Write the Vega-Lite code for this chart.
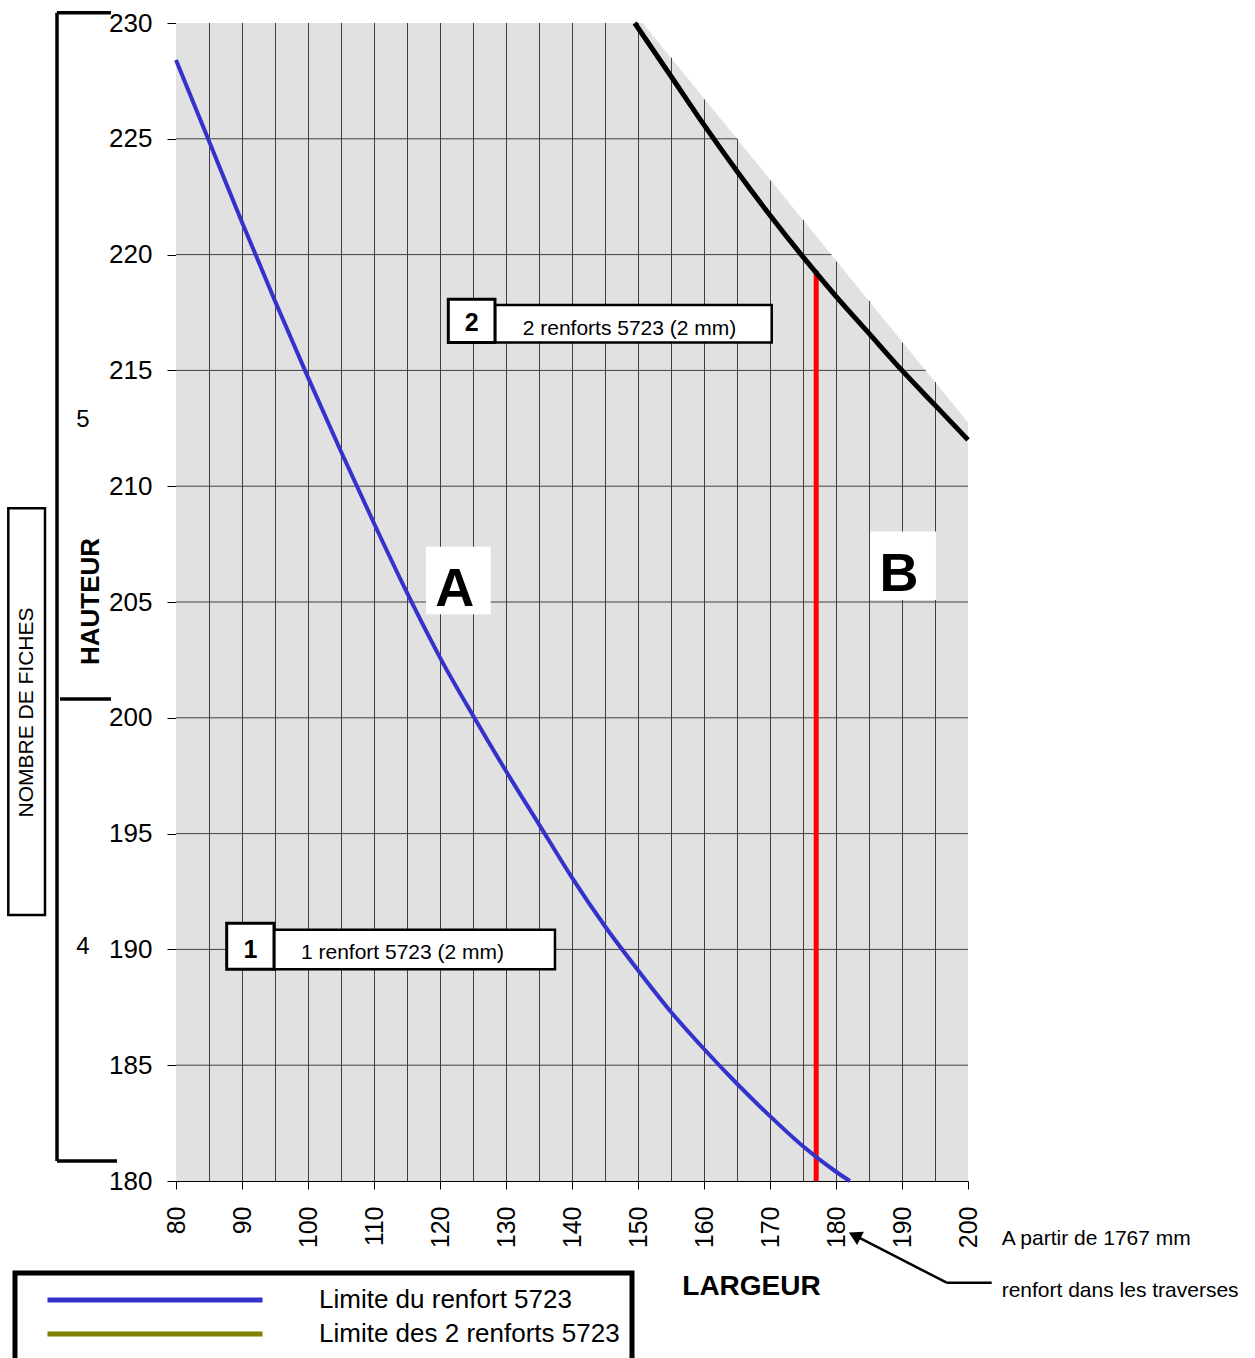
{
  "$schema": "https://vega.github.io/schema/vega-lite/v6.json",
  "width": 792,
  "height": 1158,
  "autosize": {"type": "none"},
  "padding": {"left": 176, "top": 23, "right": 287, "bottom": 177},
  "background": "white",
  "config": {
    "font": "Liberation Sans",
    "view": {"stroke": null},
    "axis": {"grid": false},
    "legend": {"strokeWidth": 5}
  },
  "datasets": {
    "zone": [{"x": 80, "y": 230, "base": 180}, {"x": 150.7, "y": 230, "base": 180}, {"x": 200, "y": 212.75, "base": 180}],
    "vgrid": [
      {"x": 85, "base": 180, "top": 230}, {"x": 90, "base": 180, "top": 230}, {"x": 95, "base": 180, "top": 230}, {"x": 100, "base": 180, "top": 230},
      {"x": 105, "base": 180, "top": 230}, {"x": 110, "base": 180, "top": 230}, {"x": 115, "base": 180, "top": 230}, {"x": 120, "base": 180, "top": 230},
      {"x": 125, "base": 180, "top": 230}, {"x": 130, "base": 180, "top": 230}, {"x": 135, "base": 180, "top": 230}, {"x": 140, "base": 180, "top": 230},
      {"x": 145, "base": 180, "top": 230}, {"x": 150, "base": 180, "top": 230}, {"x": 155, "base": 180, "top": 228.5}, {"x": 160, "base": 180, "top": 226.7},
      {"x": 165, "base": 180, "top": 225.0}, {"x": 170, "base": 180, "top": 223.2}, {"x": 175, "base": 180, "top": 221.5}, {"x": 180, "base": 180, "top": 219.7},
      {"x": 185, "base": 180, "top": 218.0}, {"x": 190, "base": 180, "top": 216.2}, {"x": 195, "base": 180, "top": 214.5}
    ],
    "hgrid": [
      {"y": 185, "left": 80, "right": 200}, {"y": 190, "left": 80, "right": 200}, {"y": 195, "left": 80, "right": 200}, {"y": 200, "left": 80, "right": 200},
      {"y": 205, "left": 80, "right": 200}, {"y": 210, "left": 80, "right": 200}, {"y": 215, "left": 80, "right": 193.6}, {"y": 220, "left": 80, "right": 179.3},
      {"y": 225, "left": 80, "right": 165.0}
    ],
    "blue": [
      {"x": 80, "y": 228.4, "serie": "Limite du renfort 5723"}, {"x": 85, "y": 224.9, "serie": "Limite du renfort 5723"},
      {"x": 90, "y": 221.4, "serie": "Limite du renfort 5723"}, {"x": 95, "y": 218.0, "serie": "Limite du renfort 5723"},
      {"x": 100, "y": 214.7, "serie": "Limite du renfort 5723"}, {"x": 105, "y": 211.5, "serie": "Limite du renfort 5723"},
      {"x": 110, "y": 208.4, "serie": "Limite du renfort 5723"}, {"x": 115, "y": 205.4, "serie": "Limite du renfort 5723"},
      {"x": 120, "y": 202.6, "serie": "Limite du renfort 5723"}, {"x": 125, "y": 200.1, "serie": "Limite du renfort 5723"},
      {"x": 130, "y": 197.7, "serie": "Limite du renfort 5723"}, {"x": 135, "y": 195.4, "serie": "Limite du renfort 5723"},
      {"x": 140, "y": 193.1, "serie": "Limite du renfort 5723"}, {"x": 145, "y": 191.0, "serie": "Limite du renfort 5723"},
      {"x": 150, "y": 189.1, "serie": "Limite du renfort 5723"}, {"x": 155, "y": 187.3, "serie": "Limite du renfort 5723"},
      {"x": 160, "y": 185.7, "serie": "Limite du renfort 5723"}, {"x": 165, "y": 184.2, "serie": "Limite du renfort 5723"},
      {"x": 170, "y": 182.8, "serie": "Limite du renfort 5723"}, {"x": 175, "y": 181.5, "serie": "Limite du renfort 5723"},
      {"x": 180, "y": 180.4, "serie": "Limite du renfort 5723"}, {"x": 182.1, "y": 180.0, "serie": "Limite du renfort 5723"}
    ],
    "black": [
      {"x": 149.5, "y": 230}, {"x": 155, "y": 227.7}, {"x": 160, "y": 225.6}, {"x": 165, "y": 223.6},
      {"x": 170, "y": 221.7}, {"x": 175, "y": 219.9}, {"x": 180, "y": 218.2}, {"x": 185, "y": 216.6},
      {"x": 190, "y": 215.0}, {"x": 195, "y": 213.5}, {"x": 200, "y": 212.0}
    ],
    "red": [{"x": 177, "y": 180, "y2": 219.3}],
    "textBoxes": [
      {"x": 128.33, "x2": 170.26, "y": 217.82, "y2": 216.21},
      {"x": 94.85, "x2": 137.42, "y": 190.85, "y2": 189.14}
    ],
    "numBoxes": [
      {"x": 121.26, "x2": 128.33, "y": 218.07, "y2": 216.21},
      {"x": 87.68, "x2": 94.85, "y": 191.13, "y2": 189.14}
    ],
    "letterBoxes": [
      {"x": 117.88, "x2": 127.68, "y": 207.39, "y2": 204.47},
      {"x": 185.15, "x2": 195.15, "y": 208.04, "y2": 205.09}
    ],
    "letters": [{"t": "A", "x": 122.23, "y": 204.83}, {"t": "B", "x": 189.55, "y": 205.49}],
    "nums": [{"t": "2", "x": 124.8, "y": 216.69}, {"t": "1", "x": 91.27, "y": 189.62}],
    "boxLabels": [
      {"t": "2 renforts 5723 (2 mm)", "x": 148.71, "y": 216.53},
      {"t": "1 renfort 5723 (2 mm)", "x": 114.32, "y": 189.58}
    ],
    "notes": [
      {"t": "A partir de 1767 mm", "x": 205.1, "y": 177.23},
      {"t": "renfort dans les traverses", "x": 205.1, "y": 175.0}
    ],
    "arrow": [
      {"x": 196.77, "y": 175.61, "x2": 182.83, "y2": 177.65},
      {"x": 196.77, "y": 175.61, "x2": 203.59, "y2": 175.61}
    ],
    "arrowHead": [{"x": 182.83, "y": 177.65}],
    "bracket": [
      {"x": 61.97, "y": 230.44, "x2": 61.97, "y2": 180.86},
      {"x": 61.97, "y": 230.44, "x2": 70.15, "y2": 230.44},
      {"x": 62.42, "y": 200.81, "x2": 70.15, "y2": 200.81},
      {"x": 61.97, "y": 180.86, "x2": 71.06, "y2": 180.86}
    ],
    "fichesBox": [{"x": 54.59, "x2": 60.15, "y": 209.05, "y2": 191.49}],
    "fichesNums": [{"t": "5", "x": 65.9, "y": 212.56}, {"t": "4", "x": 65.9, "y": 189.8}],
    "fichesTitle": [{"t": "NOMBRE DE FICHES", "x": 57.38, "y": 200.23}]
  },
  "layer": [
    {
      "data": {"name": "zone"},
      "mark": {"type": "area", "color": "#e1e1e1", "interpolate": "linear"},
      "encoding": {
        "x": {
          "field": "x", "type": "quantitative",
          "scale": {"domain": [80, 200], "nice": false, "zero": false},
          "axis": {
            "values": [80, 90, 100, 110, 120, 130, 140, 150, 160, 170, 180, 190, 200],
            "tickSize": 8, "tickColor": "black", "domainColor": "black",
            "labelAngle": -90, "labelAlign": "right", "labelBaseline": "middle",
            "labelFontSize": 25, "labelColor": "black", "labelPadding": 17,
            "labelFlush": false, "labelOverlap": false,
            "title": "LARGEUR", "titleFontSize": 28, "titleFontWeight": "bold", "titleColor": "black",
            "titleX": 575, "titleY": 113, "titleAlign": "center", "titleBaseline": "alphabetic",
            "grid": false
          }
        },
        "y": {
          "field": "y", "type": "quantitative",
          "scale": {"domain": [180, 230], "nice": false, "zero": false},
          "axis": {
            "values": [180, 185, 190, 195, 200, 205, 210, 215, 220, 225, 230],
            "tickSize": 9, "tickColor": "black", "domainColor": "black",
            "labelFontSize": 26, "labelColor": "black", "labelPadding": 15,
            "labelFlush": false, "labelOverlap": false,
            "title": "HAUTEUR", "titleFontSize": 26, "titleFontWeight": "bold", "titleColor": "black",
            "titleAngle": 270, "titleX": -86, "titleY": 578, "titleAlign": "center", "titleBaseline": "middle",
            "grid": false
          }
        },
        "y2": {"field": "base"}
      }
    },
    {
      "data": {"name": "vgrid"},
      "mark": {"type": "rule", "color": "#404040", "strokeWidth": 1, "xOffset": 0.5},
      "encoding": {
        "x": {"field": "x", "type": "quantitative"},
        "y": {"field": "base", "type": "quantitative"},
        "y2": {"field": "top"}
      }
    },
    {
      "data": {"name": "hgrid"},
      "mark": {"type": "rule", "color": "#404040", "strokeWidth": 1},
      "encoding": {
        "x": {"field": "left", "type": "quantitative"},
        "x2": {"field": "right"},
        "y": {"field": "y", "type": "quantitative"}
      }
    },
    {
      "data": {"name": "red"},
      "mark": {"type": "rule", "color": "#ff0000", "strokeWidth": 5},
      "encoding": {
        "x": {"field": "x", "type": "quantitative"},
        "y": {"field": "y", "type": "quantitative"},
        "y2": {"field": "y2"}
      }
    },
    {
      "data": {"name": "blue"},
      "mark": {"type": "line", "strokeWidth": 4, "interpolate": "monotone"},
      "encoding": {
        "x": {"field": "x", "type": "quantitative"},
        "y": {"field": "y", "type": "quantitative"},
        "color": {
          "field": "serie", "type": "nominal",
          "scale": {"domain": ["Limite du renfort 5723", "Limite des 2 renforts 5723"], "range": ["#3333cc", "#808000"]},
          "legend": {
            "title": null, "orient": "none", "legendX": -161, "legendY": 1250, "direction": "vertical",
            "symbolType": "stroke", "symbolSize": 46225, "symbolStrokeWidth": 5,
            "clipHeight": 30, "rowPadding": 4, "padding": 12, "symbolOffset": 18, "labelOffset": 54,
            "labelFontSize": 26, "labelColor": "black", "labelLimit": 1000,
            "strokeColor": "black"
          }
        }
      }
    },
    {
      "data": {"name": "black"},
      "mark": {"type": "line", "strokeWidth": 5, "color": "black", "interpolate": "monotone"},
      "encoding": {
        "x": {"field": "x", "type": "quantitative"},
        "y": {"field": "y", "type": "quantitative"}
      }
    },
    {
      "data": {"name": "textBoxes"},
      "mark": {"type": "rect", "fill": "white", "stroke": "black", "strokeWidth": 2.5},
      "encoding": {
        "x": {"field": "x", "type": "quantitative"}, "x2": {"field": "x2"},
        "y": {"field": "y", "type": "quantitative"}, "y2": {"field": "y2"}
      }
    },
    {
      "data": {"name": "numBoxes"},
      "mark": {"type": "rect", "fill": "white", "stroke": "black", "strokeWidth": 3},
      "encoding": {
        "x": {"field": "x", "type": "quantitative"}, "x2": {"field": "x2"},
        "y": {"field": "y", "type": "quantitative"}, "y2": {"field": "y2"}
      }
    },
    {
      "data": {"name": "letterBoxes"},
      "mark": {"type": "rect", "fill": "white"},
      "encoding": {
        "x": {"field": "x", "type": "quantitative"}, "x2": {"field": "x2"},
        "y": {"field": "y", "type": "quantitative"}, "y2": {"field": "y2"}
      }
    },
    {
      "data": {"name": "letters"},
      "mark": {"type": "text", "fontSize": 54, "fontWeight": "bold", "align": "center", "baseline": "alphabetic", "color": "black"},
      "encoding": {
        "x": {"field": "x", "type": "quantitative"},
        "y": {"field": "y", "type": "quantitative"},
        "text": {"field": "t"}
      }
    },
    {
      "data": {"name": "nums"},
      "mark": {"type": "text", "fontSize": 25, "fontWeight": "bold", "align": "center", "baseline": "alphabetic", "color": "black"},
      "encoding": {
        "x": {"field": "x", "type": "quantitative"},
        "y": {"field": "y", "type": "quantitative"},
        "text": {"field": "t"}
      }
    },
    {
      "data": {"name": "boxLabels"},
      "mark": {"type": "text", "fontSize": 21, "align": "center", "baseline": "alphabetic", "color": "black"},
      "encoding": {
        "x": {"field": "x", "type": "quantitative"},
        "y": {"field": "y", "type": "quantitative"},
        "text": {"field": "t"}
      }
    },
    {
      "data": {"name": "notes"},
      "mark": {"type": "text", "fontSize": 21, "align": "left", "baseline": "alphabetic", "color": "black"},
      "encoding": {
        "x": {"field": "x", "type": "quantitative"},
        "y": {"field": "y", "type": "quantitative"},
        "text": {"field": "t"}
      }
    },
    {
      "data": {"name": "arrow"},
      "mark": {"type": "rule", "color": "black", "strokeWidth": 2.5},
      "encoding": {
        "x": {"field": "x", "type": "quantitative"}, "x2": {"field": "x2"},
        "y": {"field": "y", "type": "quantitative"}, "y2": {"field": "y2"}
      }
    },
    {
      "data": {"name": "arrowHead"},
      "mark": {"type": "point", "shape": "triangle-up", "filled": true, "color": "black", "size": 225, "angle": 297, "opacity": 1},
      "encoding": {
        "x": {"field": "x", "type": "quantitative"},
        "y": {"field": "y", "type": "quantitative"}
      }
    },
    {
      "data": {"name": "bracket"},
      "mark": {"type": "rule", "color": "black", "strokeWidth": 3.5},
      "encoding": {
        "x": {"field": "x", "type": "quantitative"}, "x2": {"field": "x2"},
        "y": {"field": "y", "type": "quantitative"}, "y2": {"field": "y2"}
      }
    },
    {
      "data": {"name": "fichesBox"},
      "mark": {"type": "rect", "filled": false, "stroke": "black", "strokeWidth": 2.5},
      "encoding": {
        "x": {"field": "x", "type": "quantitative"}, "x2": {"field": "x2"},
        "y": {"field": "y", "type": "quantitative"}, "y2": {"field": "y2"}
      }
    },
    {
      "data": {"name": "fichesNums"},
      "mark": {"type": "text", "fontSize": 24, "align": "center", "baseline": "alphabetic", "color": "black"},
      "encoding": {
        "x": {"field": "x", "type": "quantitative"},
        "y": {"field": "y", "type": "quantitative"},
        "text": {"field": "t"}
      }
    },
    {
      "data": {"name": "fichesTitle"},
      "mark": {"type": "text", "fontSize": 21, "align": "center", "baseline": "middle", "angle": 270, "color": "black"},
      "encoding": {
        "x": {"field": "x", "type": "quantitative"},
        "y": {"field": "y", "type": "quantitative"},
        "text": {"field": "t"}
      }
    }
  ]
}
